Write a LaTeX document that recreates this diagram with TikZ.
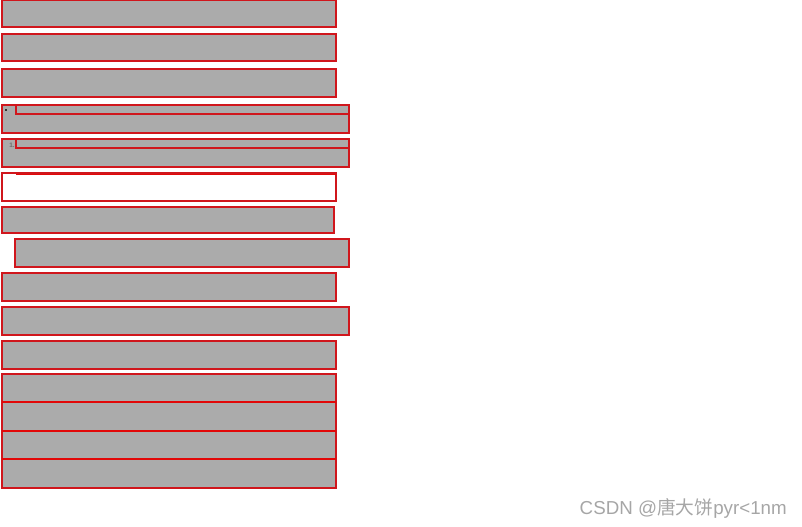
\documentclass[tikz,border=0pt]{standalone}
\usepackage{fontspec}
\setsansfont{Liberation Sans}
\newfontfamily\cjk{Noto Sans CJK SC}
\usetikzlibrary{positioning}
\definecolor{boxgrey}{RGB}{171,171,171}
\definecolor{boxred}{RGB}{208,22,28}
\definecolor{linered}{RGB}{226,8,8}
\definecolor{markgrey}{RGB}{110,110,110}

\begin{document}
\begin{tikzpicture}[
    x=0.03cm, y=-0.03cm,
    blk/.style={fill=boxgrey, draw=boxred, line width=1pt},
    emptyblk/.style={fill=white, draw=boxred, line width=1pt},
    rule/.style={draw=linered, line width=1.6pt},
    numlabel/.style={font=\sffamily\bfseries\fontsize{5.5}{5.5}\selectfont, text=markgrey, inner sep=0pt},
]
    \useasboundingbox (0,0) rectangle (802,527);

    % Plain blocks
    \foreach \xa/\ya/\xb/\yb in {2/0.5/336/27, 2/34/336/61, 2/69/336/97,
        2/207/334/233, 15/239/349/267, 2/273/336/301, 2/307/349/335,
        2/341/336/369}
        \draw[blk] (\xa,\ya) rectangle (\xb,\yb);

    % List items
    \draw[blk] (2,105) rectangle (349,133);
    \draw[blk] (16,105) rectangle (349,114);
    \fill[black!80] (5,109) rectangle (7,111);
    \draw[blk] (2,139) rectangle (349,167);
    \draw[blk] (16,139) rectangle (349,148);
    \node[numlabel] (num) at (12,145) {1.};

    % Empty block
    \draw[emptyblk] (2,173) rectangle (336,201);
    \draw[rule] (16,174.5) -- (336,174.5);

    % Stacked blocks
    \foreach \ya/\yb in {374/402, 402/431, 431/459, 459/488}
        \draw[blk] (2,\ya) rectangle (336,\yb);
    \foreach \yr in {402, 431, 459}
        \draw[rule] (2,\yr) -- (336,\yr);

    % Watermark
    \node[anchor=east, text=black!35, font=\sffamily\fontsize{16}{16}\selectfont,
          inner sep=0pt] (wm) at (787,508) {CSDN @{\cjk 唐大饼}pyr<1nm};
\end{tikzpicture}
\end{document}
